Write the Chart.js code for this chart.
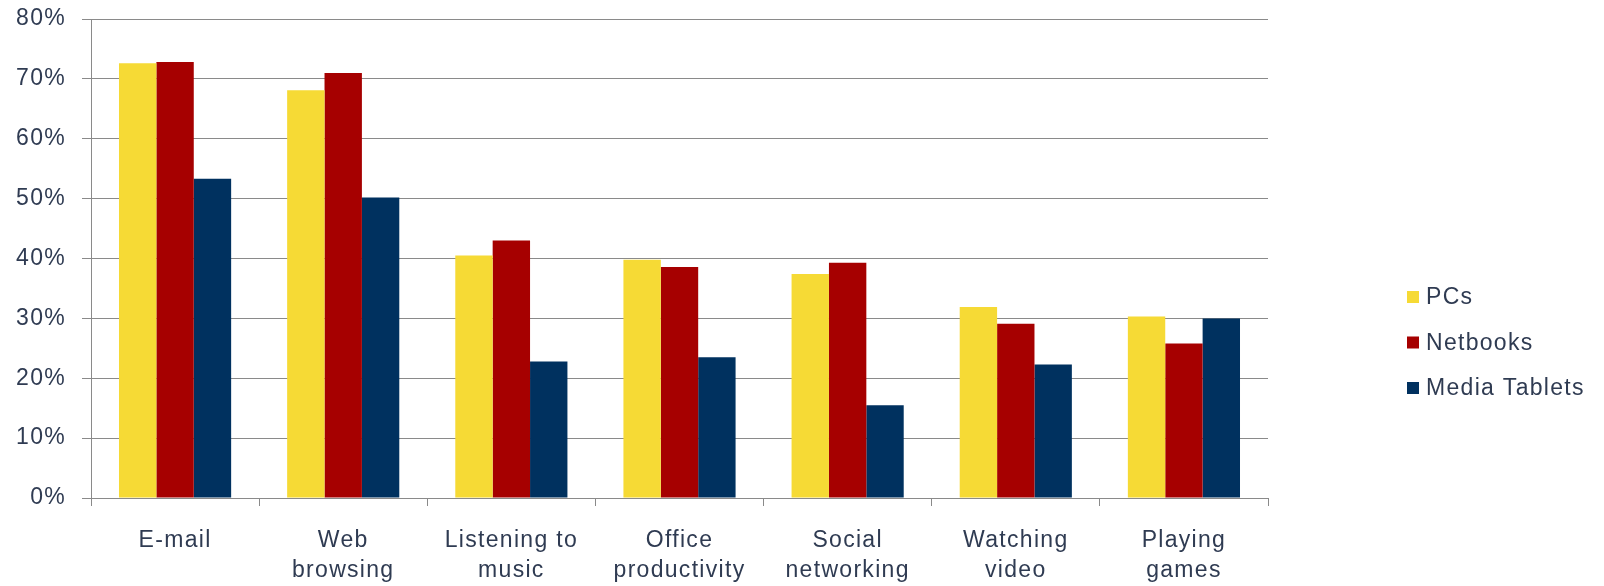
<!DOCTYPE html>
<html>
<head>
<meta charset="utf-8">
<script src="https://cdn.jsdelivr.net/npm/chart.js@4/dist/chart.umd.min.js"></script>
<style>
  html,body{margin:0;padding:0;background:#fff;}
  #wrap{width:1604px;height:586px;position:relative;}
</style>
</head>
<body>
<div id="wrap"><canvas id="c" width="1604" height="586"></canvas></div>
<script>
// datos (porcentaje de usuarios por actividad)
const categories = [['E-mail'], ['Web', 'browsing'], ['Listening to', 'music'], ['Office', 'productivity'], ['Social', 'networking'], ['Watching', 'video'], ['Playing', 'games']];
const seriesNames = ['PCs', 'Netbooks', 'Media Tablets'];
const pcs = [72.6, 68.1, 40.5, 39.8, 37.4, 31.9, 30.3];
const netbooks = [72.8, 71.0, 43.0, 38.6, 39.3, 29.1, 25.8];
const tablets = [53.3, 50.2, 22.8, 23.5, 15.5, 22.3, 30.0];
const yTicks = [0, 10, 20, 30, 40, 50, 60, 70, 80];

const colors = ['#F6DA35', '#A60000', '#00315F'];
const txt = '#2f3b52';
const gridC = '#8a8a8a';
const FONT = '"Liberation Sans", Arial, sans-serif';
const FS = 23;
const SPACING = '1.3px'; // el original tiene el texto bastante espaciado

// el espaciado de letras se pone en el contexto antes de medir y de dibujar
const spacing = {
  id: 'spacing',
  beforeLayout(chart){ chart.ctx.letterSpacing = SPACING; },
  beforeDraw(chart){ chart.ctx.letterSpacing = SPACING; }
};

// leyenda a la derecha, dibujada a mano para ubicarla igual que el original
const sideLegend = {
  id: 'sideLegend',
  afterDraw(chart){
    const ctx = chart.ctx;
    ctx.save();
    ctx.letterSpacing = SPACING;
    ctx.font = FS + 'px ' + FONT;
    ctx.textBaseline = 'middle';
    chart.data.datasets.forEach((ds, i) => {
      const y = 297 + i * 45.5;
      ctx.fillStyle = ds.backgroundColor;
      ctx.fillRect(1407, y - 6, 12, 12);
      ctx.fillStyle = txt;
      ctx.fillText(ds.label, 1426, y + 1);
    });
    ctx.restore();
  }
};

new Chart(document.getElementById('c').getContext('2d'), {
  type: 'bar',
  data: {
    labels: categories,
    datasets: [
      {label: seriesNames[0], data: pcs, backgroundColor: colors[0]},
      {label: seriesNames[1], data: netbooks, backgroundColor: colors[1]},
      {label: seriesNames[2], data: tablets, backgroundColor: colors[2]},
    ]
  },
  options: {
    responsive: false,
    animation: false,
    layout: {padding: {top: 19, right: 336, left: 0, bottom: 0}},
    datasets: {bar: {categoryPercentage: 0.667, barPercentage: 1.0, borderWidth: 0}},
    plugins: {legend: {display: false}, tooltip: {enabled: false}},
    scales: {
      x: {
        grid: {display: true, drawOnChartArea: false, drawTicks: true, tickLength: 8, color: gridC, offset: true},
        border: {display: true, color: gridC, width: 1},
        ticks: {color: txt, font: {family: FONT, size: FS, lineHeight: 1.3}, padding: 20, maxRotation: 0, autoSkip: false},
        afterFit: s => { s.height = 88; }
      },
      y: {
        min: 0, max: 80,
        afterBuildTicks: s => { s.ticks = yTicks.map(v => ({value: v})); },
        grid: {color: gridC, lineWidth: 1, drawTicks: true, tickLength: 9},
        border: {display: true, color: gridC, width: 1},
        ticks: {color: txt, font: {family: FONT, size: FS}, padding: 16, callback: v => v + '%'},
        afterFit: s => { s.width = 91; s.paddingTop = 0; s.paddingBottom = 0; }
      }
    }
  },
  plugins: [spacing, sideLegend]
});
</script>
</body>
</html>
